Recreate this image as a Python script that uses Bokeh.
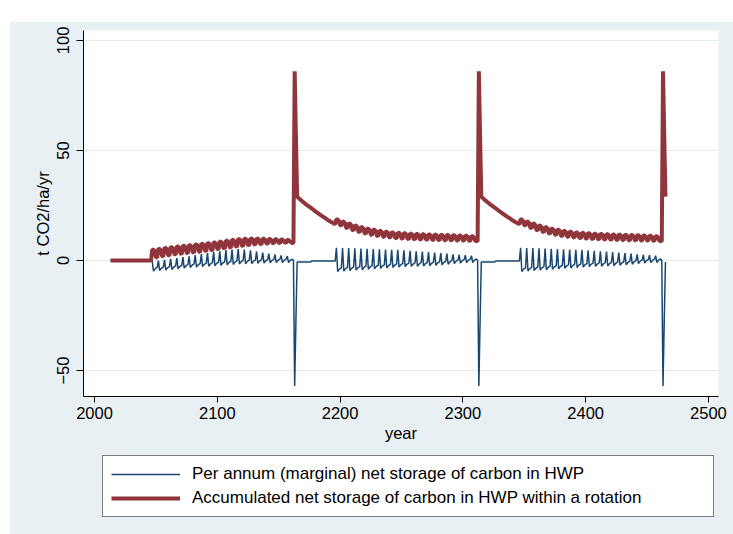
import math
from bokeh.plotting import figure
from bokeh.models import Range1d, FixedTicker, Legend, LegendItem, Div, ColumnDataSource
from bokeh.layouts import column, row
from bokeh.embed import file_html
from bokeh.resources import INLINE

# ---------------- data (t CO2/ha/yr) ----------------
first_year = 2013
last_year = 2465

x_ticks = [2000, 2100, 2200, 2300, 2400, 2500]
y_ticks = [-50, 0, 50, 100]

label_marginal = "Per annum (marginal) net storage of carbon in HWP"
label_accum = "Accumulated net storage of carbon in HWP within a rotation"

# first rotation, 2013-2162 (accumulated)
accum_rotation1 = [
    0, 0, 0, 0, 0, 0, 0, 0, 0, 0,
    0, 0, 0, 0, 0, 0, 0, 0, 0, 0,
    0, 0, 0, 0, 0, 0, 0, 0, 0, 0,
    0, 0, 0, 0,
    5.0, 4.8, 4.2, 1.6, 1.3,
    5.4, 5.2, 4.6, 2.1, 1.8,
    5.8, 5.6, 5.0, 2.5, 2.2,
    6.2, 6.0, 5.4, 2.9, 2.6,
    6.5, 6.3, 5.7, 3.2, 2.9,
    6.8, 6.6, 6.0, 3.5, 3.2,
    7.1, 6.9, 6.3, 3.8, 3.5,
    7.4, 7.2, 6.6, 4.1, 3.8,
    7.7, 7.5, 6.9, 4.5, 4.2,
    8.0, 7.8, 7.2, 4.9, 4.6,
    8.3, 8.1, 7.5, 5.3, 5.0,
    8.7, 8.5, 7.9, 5.7, 5.4,
    9.1, 8.9, 8.3, 6.1, 5.8,
    9.5, 9.3, 8.7, 6.5, 6.2,
    9.8, 9.6, 9.0, 6.8, 6.5,
    10.0, 9.8, 9.2, 7.1, 6.8,
    10.1, 9.9, 9.3, 7.4, 7.1,
    10.1, 9.9, 9.3, 7.6, 7.3,
    10.0, 9.8, 9.2, 7.8, 7.5,
    9.9, 9.7, 9.1, 8.0, 7.7,
    9.8, 9.6, 9.0, 8.1, 7.8,
    9.7, 9.5, 8.9, 8.2, 7.9,
    9.5, 9.3, 8.7, 8.3, 8.0,
    8.0,
]

# a full later rotation (2163-2312, and again 2313-2462), accumulated
accum_rotation = [
    86.0, 57.0,
    29.0, 28.5, 28.0, 27.4, 27.0, 26.5, 26.1, 25.6, 25.2, 24.8,
    24.4, 24.0, 23.6, 23.2, 22.7, 22.3, 21.9, 21.5, 21.1, 20.7,
    20.3, 19.9, 19.6, 19.2, 18.8, 18.4, 18.1, 17.7, 17.4, 17.1,
    16.8, 16.5,
    18.8, 18.6, 18.0, 16.1, 15.8,
    17.8, 17.6, 17.0, 14.9, 14.6,
    16.9, 16.7, 16.1, 13.9, 13.6,
    16.0, 15.8, 15.2, 13.1, 12.8,
    15.3, 15.1, 14.5, 12.4, 12.1,
    14.6, 14.4, 13.8, 11.8, 11.5,
    14.1, 13.9, 13.3, 11.3, 11.0,
    13.6, 13.4, 12.8, 10.9, 10.6,
    13.2, 13.0, 12.4, 10.6, 10.3,
    12.9, 12.7, 12.1, 10.3, 10.0,
    12.7, 12.5, 11.9, 10.1, 9.8,
    12.5, 12.3, 11.7, 9.9, 9.6,
    12.3, 12.1, 11.5, 9.8, 9.5,
    12.2, 12.0, 11.4, 9.7, 9.4,
    12.1, 11.9, 11.3, 9.6, 9.3,
    12.0, 11.8, 11.2, 9.5, 9.2,
    11.9, 11.7, 11.1, 9.4, 9.1,
    11.8, 11.6, 11.0, 9.3, 9.0,
    11.7, 11.5, 10.9, 9.3, 9.0,
    11.6, 11.4, 10.8, 9.2, 8.9,
    11.5, 11.3, 10.7, 9.2, 8.9,
    11.4, 11.2, 10.6, 9.1, 8.8,
    11.2, 11.0, 10.4, 9.1, 8.8,
    8.8,
]
accum_final = [86.0, 57.0, 29.0]  # 2463-2465

# first rotation, 2013-2162 (per annum)
marginal_rotation1 = [
    0, 0, 0, 0, 0, 0, 0, 0, 0, 0,
    0, 0, 0, 0, 0, 0, 0, 0, 0, 0,
    0, 0, 0, 0, 0, 0, 0, 0, 0, 0,
    0, 0, 0, 0,
    -0.4, -4.8, -4.0, -3.5, -3.2,
    -0.1, -4.6, -3.8, -3.3, -3.0,
    0.3, -4.4, -3.6, -3.1, -2.8,
    0.7, -4.1, -3.3, -2.8, -2.5,
    1.1, -3.8, -3.0, -2.5, -2.2,
    1.5, -3.5, -2.7, -2.2, -1.9,
    1.9, -3.2, -2.4, -1.9, -1.6,
    2.4, -3.0, -2.2, -1.7, -1.4,
    2.9, -2.8, -2.0, -1.5, -1.2,
    3.4, -2.6, -1.8, -1.3, -1.0,
    3.9, -2.4, -1.6, -1.1, -0.8,
    4.3, -2.2, -1.4, -0.9, -0.6,
    4.7, -2.0, -1.2, -0.7, -0.4,
    5.0, -1.8, -1.0, -0.5, -0.2,
    5.2, -1.6, -0.8, -0.3, 0.0,
    5.0, -1.5, -0.7, -0.2, 0.1,
    4.6, -1.4, -0.6, -0.1, 0.2,
    4.1, -1.3, -0.5, 0.0, 0.3,
    3.6, -1.2, -0.4, 0.1, 0.4,
    3.1, -1.1, -0.3, 0.2, 0.5,
    2.7, -1.0, -0.2, 0.3, 0.6,
    2.3, -1.0, -0.2, 0.3, 0.6,
    2.0, -1.0, -0.2, 0.3, 0.6,
    0.0,
]

# a full later rotation (2163-2312, and again 2313-2462), per annum
marginal_rotation = [
    -57.0, -28.0,
    -0.7, -0.7, -0.7, -0.7, -0.7, -0.7, -0.7, -0.7, -0.7, -0.7,
    -0.7, -0.7,
    -0.2, -0.2, -0.2, -0.2, -0.2, -0.2, -0.2, -0.2, -0.2, -0.2,
    -0.2, -0.2, -0.2, -0.2, -0.2, -0.2, -0.2, -0.2, -0.2, -0.2,
    5.8, -5.0, -4.2, -3.7, -3.4,
    5.7, -4.8, -4.0, -3.5, -3.2,
    5.6, -4.6, -3.8, -3.3, -3.0,
    5.5, -4.4, -3.6, -3.1, -2.8,
    5.4, -4.2, -3.4, -2.9, -2.6,
    5.3, -4.0, -3.2, -2.7, -2.4,
    5.2, -3.8, -3.0, -2.5, -2.2,
    5.1, -3.6, -2.8, -2.3, -2.0,
    5.0, -3.4, -2.6, -2.1, -1.8,
    4.9, -3.2, -2.4, -1.9, -1.6,
    4.8, -3.0, -2.2, -1.7, -1.4,
    4.6, -2.8, -2.0, -1.5, -1.2,
    4.4, -2.7, -1.9, -1.4, -1.1,
    4.2, -2.6, -1.8, -1.3, -1.0,
    4.0, -2.5, -1.7, -1.2, -0.9,
    3.8, -2.4, -1.6, -1.1, -0.8,
    3.6, -2.2, -1.4, -0.9, -0.6,
    3.4, -2.0, -1.2, -0.7, -0.4,
    3.1, -1.7, -0.9, -0.4, -0.1,
    2.8, -1.4, -0.6, -0.1, 0.2,
    2.6, -1.2, -0.4, 0.1, 0.4,
    2.4, -1.0, -0.2, 0.3, 0.6,
    2.2, -0.9, -0.1, 0.4, 0.7,
    0.0,
]
marginal_final = [-57.0, -28.0, -0.7]  # 2463-2465

assert len(accum_rotation1) == 150, len(accum_rotation1)
assert len(accum_rotation) == 150, len(accum_rotation)
assert len(marginal_rotation1) == 150, len(marginal_rotation1)
assert len(marginal_rotation) == 150, len(marginal_rotation)

years = list(range(first_year, last_year + 1))
accumulated = accum_rotation1 + accum_rotation + accum_rotation + accum_final
marginal = marginal_rotation1 + marginal_rotation + marginal_rotation + marginal_final

source = ColumnDataSource(data=dict(year=years, accumulated=accumulated, marginal=marginal))

# ---------------- styling ----------------
FONT = "Liberation Sans"
BLUE = "#1A476F"
RED = "#90353B"
BG = "#E8F0F3"
W = 723

# main chart
p = figure(
    width=W, height=426,
    output_backend="svg", toolbar_location=None,
    x_range=Range1d(1991.0, 2508.2), y_range=Range1d(-61.8, 104.5),
    min_border_left=73, min_border_right=15, min_border_top=8, min_border_bottom=52,
    background_fill_color="white", border_fill_color=BG,
    outline_line_color=None, margin=0,
)

r_marg = p.line("year", "marginal", source=source, line_color=BLUE, line_width=1.5)
r_acc = p.line("year", "accumulated", source=source, line_color=RED, line_width=4)

p.xgrid.grid_line_color = None
p.ygrid.grid_line_color = "#E3EBEE"
p.ygrid.grid_line_width = 1

for ax in (p.xaxis[0], p.yaxis[0]):
    ax.axis_line_color = "black"
    ax.axis_line_width = 1
    ax.major_tick_line_color = "black"
    ax.major_tick_in = 0
    ax.minor_tick_line_color = None
    ax.major_label_text_font = FONT
    ax.major_label_text_font_size = "16.5px"
    ax.major_label_text_color = "black"
    ax.axis_label_text_font = FONT
    ax.axis_label_text_font_size = "16.5px"
    ax.axis_label_text_font_style = "normal"
    ax.axis_label_text_color = "black"

p.xaxis.ticker = FixedTicker(ticks=x_ticks)
p.xaxis.major_tick_out = 6
p.xaxis.major_label_standoff = 4
p.xaxis.axis_label = "year"
p.xaxis.axis_label_standoff = 2

p.yaxis.ticker = FixedTicker(ticks=y_ticks)
p.yaxis.major_tick_out = 7
p.yaxis.major_label_orientation = "vertical"
p.yaxis.major_label_standoff = 7
p.yaxis.axis_label = "t CO2/ha/yr"
p.yaxis.axis_label_standoff = 3

# legend strip below the chart (same background as the graph region).
# Its keys are drawn from the same data source; the strip's ranges keep those
# lines outside its frame so only the legend is visible.
leg_fig = figure(
    width=W, height=86,
    output_backend="svg", toolbar_location=None,
    x_axis_location=None, y_axis_location=None,
    x_range=Range1d(0, 1), y_range=Range1d(0, 1),
    min_border=0, min_border_left=0, min_border_right=0,
    min_border_top=0, min_border_bottom=0,
    background_fill_color=BG, border_fill_color=BG,
    outline_line_color=None, margin=0,
)
leg_fig.grid.visible = False
key_marg = leg_fig.line("year", "marginal", source=source, line_color=BLUE, line_width=1.5)
key_acc = leg_fig.line("year", "accumulated", source=source, line_color=RED, line_width=4)

legend = Legend(
    items=[
        LegendItem(label=label_marginal, renderers=[key_marg]),
        LegendItem(label=label_accum, renderers=[key_acc]),
    ],
    location=(19, 17),
    orientation="vertical",
    border_line_color="black", border_line_width=1,
    background_fill_color="white", background_fill_alpha=1.0,
    label_text_font=FONT, label_text_font_size="17px", label_text_color="black",
    glyph_width=69, glyph_height=20, label_height=20, label_width=513,
    label_standoff=12, padding=8, spacing=4, margin=0,
)
leg_fig.add_layout(legend, "center")

top_band = Div(text="", width=W, height=22, margin=0,
               styles={"background-color": "white"})
chart_col = column(top_band, p, leg_fig, margin=0, spacing=0,
                   styles={"background-color": BG})
left_band = Div(text="", width=10, height=534, margin=0)
layout = row(left_band, chart_col, margin=0, spacing=0)

open("out.html", "w").write(file_html(layout, INLINE))
